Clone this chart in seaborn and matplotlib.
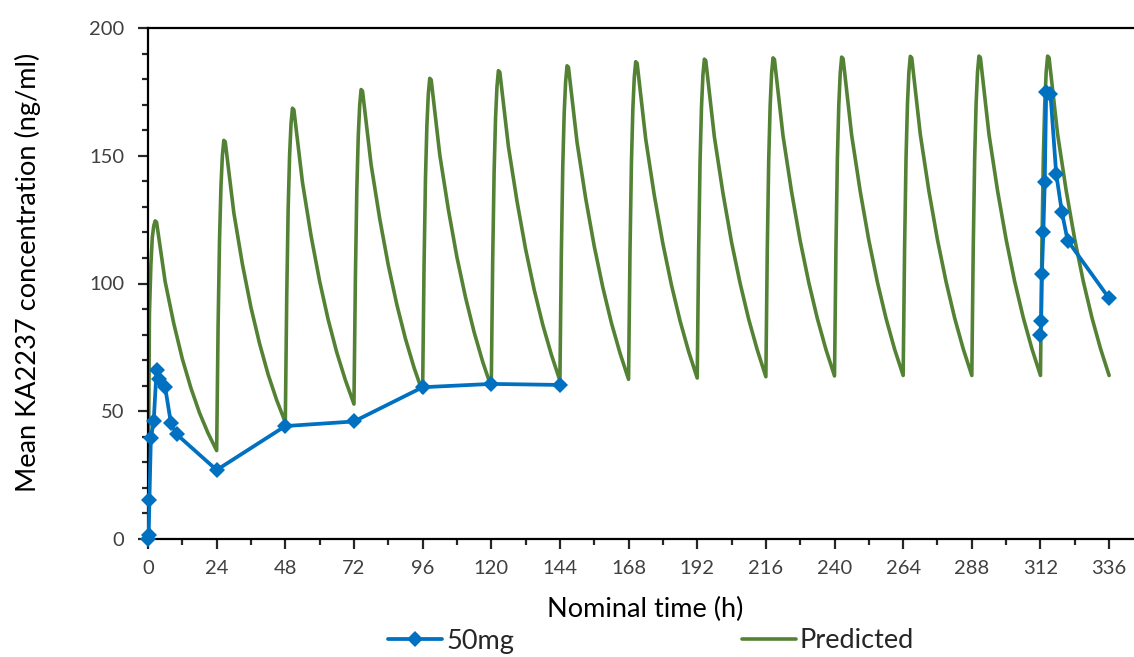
import pandas as pd
import seaborn as sns
import matplotlib.pyplot as plt
from matplotlib.lines import Line2D
from matplotlib.ticker import MultipleLocator

# Observed mean concentrations, 50mg group (two sampling periods, not joined)
obs_time = [0, 0.25, 0.5, 1, 2, 3, 4, 6, 8, 10, 24, 48, 72, 96, 120, 144,
            312, 312.25, 312.5, 313, 313.5, 314, 315.5, 317.5, 319.5, 321.5, 336]
obs_conc = [0, 1.5, 15.3, 39.4, 46.3, 66.3, 62.6, 59.4, 45.4, 41.0, 27.0, 44.2, 46.0, 59.4, 60.7, 60.3,
            79.8, 85.5, 103.7, 120.0, 139.9, 174.8, 174.2, 142.9, 127.9, 116.8, 94.2]
obs_period = [1] * 16 + [2] * 11

# Predicted profile at these times after each daily dose
dose_times = [0, 24, 48, 72, 96, 120, 144, 168, 192, 216, 240, 264, 288, 312]
sample_offsets = [0, 0.5, 1, 1.5, 2, 2.5, 3, 6, 9, 12, 15, 18, 21]
pred_conc = [
    0.0, 88.0, 107.0, 118.0, 122.5, 124.5, 124.0, 100.7, 84.4, 70.5, 59.1, 49.4, 41.4,
    34.6, 83.0, 117.0, 137.8, 150.0, 156.0, 155.5, 127.7, 107.6, 90.6, 76.5, 64.4, 54.3,
    45.7, 94.9, 129.3, 150.2, 162.5, 168.6, 168.0, 139.6, 118.7, 100.9, 85.8, 73.0, 62.2,
    52.8, 102.0, 136.5, 157.4, 169.7, 175.9, 175.3, 146.5, 125.4, 107.2, 91.7, 78.4, 67.1,
    57.4, 106.6, 141.0, 161.9, 174.2, 180.3, 179.7, 150.4, 129.0, 110.3, 94.6, 81.0, 69.4,
    59.4, 109.0, 143.7, 164.7, 177.1, 183.3, 182.7, 153.6, 132.2, 113.5, 97.6, 83.9, 72.2,
    62.0, 111.3, 145.8, 166.7, 179.0, 185.2, 184.6, 155.2, 133.4, 114.6, 98.5, 84.6, 72.8,
    62.5, 112.2, 147.0, 168.2, 180.6, 186.8, 186.2, 156.5, 134.5, 115.6, 99.4, 85.4, 73.4,
    63.0, 112.9, 147.9, 169.1, 181.6, 187.8, 187.2, 157.4, 135.4, 116.2, 100.1, 86.0, 74.0,
    63.5, 113.4, 148.4, 169.6, 182.1, 188.3, 187.7, 157.8, 135.8, 116.7, 100.4, 86.3, 74.2,
    63.8, 113.7, 148.7, 169.9, 182.4, 188.6, 188.0, 158.0, 136.0, 116.9, 100.5, 86.4, 74.3,
    64.0, 114.0, 148.9, 170.2, 182.7, 188.9, 188.3, 158.3, 136.2, 117.1, 100.7, 86.5, 74.4,
    64.0, 114.0, 149.0, 170.3, 182.8, 189.0, 188.4, 158.4, 136.3, 117.2, 100.7, 86.6, 74.5,
    64.0, 114.0, 149.0, 170.3, 182.8, 189.0, 188.4, 158.4, 136.3, 117.2, 100.7, 86.6, 74.5,
    64.0,
]
pred_time = [d + o for d in dose_times for o in sample_offsets] + [336]

obs = pd.DataFrame({'time': obs_time, 'conc': obs_conc, 'period': obs_period})
pred = pd.DataFrame({'time': pred_time, 'conc': pred_conc})

blue = '#0070C0'
green = '#548235'

sns.set_style('ticks')
plt.rcParams['font.family'] = ['Lato', 'DejaVu Sans']

fig = plt.figure(figsize=(11.34, 6.57), dpi=100)
ax = fig.add_axes([148 / 1134, 118 / 657, 986 / 1134, 511 / 657])

sns.lineplot(data=pred, x='time', y='conc', color=green, linewidth=2.6,
             estimator=None, sort=False, ax=ax, zorder=2)
sns.lineplot(data=obs, x='time', y='conc', units='period', estimator=None,
             color=blue, linewidth=2.7, marker='D', markersize=8.5,
             markeredgewidth=0, ax=ax, zorder=3)
for line in ax.get_lines()[1:]:
    line.set_clip_on(False)

ax.set_xlim(0, 344.7)
ax.set_ylim(0, 200)
ax.xaxis.set_major_locator(MultipleLocator(24))
ax.xaxis.set_minor_locator(MultipleLocator(12))
ax.yaxis.set_major_locator(MultipleLocator(50))
ax.yaxis.set_minor_locator(MultipleLocator(10))

for side in ['left', 'bottom', 'top']:
    ax.spines[side].set_linewidth(1.6)
    ax.spines[side].set_color('black')
ax.spines['right'].set_visible(False)

ax.tick_params(which='major', direction='out', length=7, width=1.6,
               labelsize=14.5, labelcolor='#404040', top=False, right=False)
ax.tick_params(which='minor', direction='out', length=4.5, width=1.6,
               top=False, right=False)
ax.tick_params(axis='x', which='major', pad=8)
ax.tick_params(axis='y', which='major', pad=10)

ax.set_xlabel('Nominal time (h)', fontsize=19.5, color='black')
ax.xaxis.set_label_coords(0.504, -0.113)
ax.set_ylabel('Mean KA2237 concentration (ng/ml)', fontsize=19.5, color='black')
ax.yaxis.label.set_verticalalignment('center')
ax.yaxis.set_label_coords(-120 / 986, 0.5225)

handles = [
    Line2D([], [], color=blue, linewidth=2.7, marker='D', markersize=8.5, markeredgewidth=0),
    Line2D([], [], color=green, linewidth=2.6),
]
fig.legend(handles, ['50mg', 'Predicted'], loc='center',
           bbox_to_anchor=(651 / 1134, 1 - 641 / 657), ncol=2, frameon=False,
           fontsize=19.5, handlelength=2.0, handletextpad=0.15, columnspacing=8.4,
           borderpad=0.1)

fig.savefig('out.png', dpi=100)
